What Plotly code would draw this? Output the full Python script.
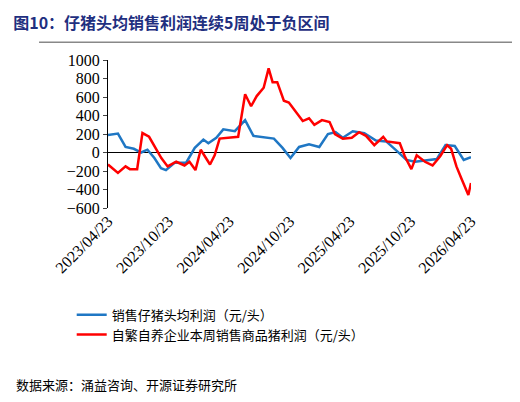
import pandas as pd
import plotly.graph_objects as go

blue_dates = ["2023-04-23", "2023-05-23", "2023-06-15", "2023-07-10", "2023-08-01", "2023-08-20",
              "2023-09-10", "2023-09-30", "2023-10-15", "2023-11-10", "2023-12-15", "2024-01-10",
              "2024-02-05", "2024-02-20", "2024-03-15", "2024-04-05", "2024-05-10", "2024-06-10",
              "2024-07-05", "2024-08-01", "2024-09-05", "2024-10-01", "2024-10-25", "2024-11-20",
              "2024-12-20", "2025-01-20", "2025-02-15", "2025-03-10", "2025-04-01", "2025-05-01",
              "2025-06-05", "2025-07-10", "2025-08-10", "2025-09-10", "2025-10-10", "2025-11-05",
              "2025-12-10", "2026-01-10", "2026-02-05", "2026-03-05", "2026-04-01", "2026-04-23"]
blue_vals = [190, 205, 60, 40, 0, 30, -60, -170, -190, -110, -110, 50,
             140, 100, 160, 250, 230, 350, 180, 170, 150, 50, -60, 60,
             90, 60, 200, 220, 160, 230, 210, 130, 120, 20, -80, -100,
             -80, -70, 80, 70, -80, -50]

red_dates = ["2023-04-23", "2023-05-23", "2023-06-15", "2023-06-28", "2023-07-20", "2023-08-05",
             "2023-08-25", "2023-09-15", "2023-10-01", "2023-10-20", "2023-11-15", "2023-12-10",
             "2023-12-25", "2024-01-12", "2024-01-28", "2024-02-25", "2024-03-10", "2024-03-25",
             "2024-04-20", "2024-05-20", "2024-06-10", "2024-06-28", "2024-07-15", "2024-08-05",
             "2024-08-20", "2024-09-01", "2024-09-15", "2024-10-05", "2024-10-20", "2024-11-05",
             "2024-12-01", "2024-12-20", "2025-01-05", "2025-01-28", "2025-02-20", "2025-03-08",
             "2025-04-01", "2025-04-28", "2025-05-20", "2025-06-10", "2025-07-05", "2025-08-01",
             "2025-08-12", "2025-09-20", "2025-10-05", "2025-10-25", "2025-11-10", "2025-12-05",
             "2025-12-28", "2026-01-20", "2026-02-10", "2026-02-22", "2026-03-10", "2026-03-25",
             "2026-04-15", "2026-04-23"]
red_vals = [-130, -220, -150, -180, -180, 210, 170, 40, -60, -150, -100, -140,
            -100, -190, 30, -130, -30, 150, 160, 170, 630, 500, 610, 700,
            910, 760, 760, 560, 540, 460, 340, 370, 300, 350, 330, 200,
            150, 160, 220, 180, 80, 170, 120, 100, -40, -180, -30, -100,
            -140, -40, 80, 40, -150, -280, -460, -330]

tick_dates = ["2023-04-23", "2023-10-23", "2024-04-23", "2024-10-23", "2025-04-23", "2025-10-23", "2026-04-23"]
tick_text = [d.replace("-", "/") for d in tick_dates]

fig = go.Figure()
fig.add_trace(go.Scatter(x=pd.to_datetime(blue_dates), y=blue_vals, mode="lines",
                         line=dict(color="#1f77c4", width=2.5), name="销售仔猪头均利润（元/头）"))
fig.add_trace(go.Scatter(x=pd.to_datetime(red_dates), y=red_vals, mode="lines",
                         line=dict(color="#ff0000", width=2.5), name="自繁自养企业本周销售商品猪利润（元/头）"))

fig.update_layout(
    width=520, height=402, plot_bgcolor="white", paper_bgcolor="white",
    margin=dict(l=100, r=57, t=52, b=202),
    font=dict(family="Liberation Serif", size=16, color="black"),
    legend=dict(x=-0.1, y=-0.62, xanchor="left", yanchor="top", tracegroupgap=14,
                font=dict(family="Noto Sans CJK SC", size=13)),
    title=dict(text="<b>图10：仔猪头均销售利润连续5周处于负区间</b>", x=0.01, y=0.975,
               font=dict(family="Noto Sans CJK SC", size=16, color="#1f2f7f")),
    shapes=[dict(type="line", xref="paper", yref="paper", x0=-0.19, x1=1.15, y0=1.12, y1=1.12,
                 line=dict(color="#888", width=1.5))],
    annotations=[dict(text="数据来源：涌益咨询、开源证券研究所", xref="paper", yref="paper",
                      x=-0.26, y=-1.27, xanchor="left", yanchor="bottom", showarrow=False,
                      font=dict(family="Noto Sans CJK SC", size=13))],
)
fig.update_xaxes(range=[pd.Timestamp("2023-04-23"), pd.Timestamp("2026-04-23")],
                 tickvals=pd.to_datetime(tick_dates), ticktext=tick_text, tickangle=-45,
                 showgrid=False, showline=False, zeroline=False, ticks="")
fig.update_yaxes(range=[-600, 1000], dtick=200, showgrid=False, showline=True, linecolor="black",
                 ticks="outside", ticklen=4, zeroline=True, zerolinecolor="black", zerolinewidth=1)
fig.write_html("out.html")
